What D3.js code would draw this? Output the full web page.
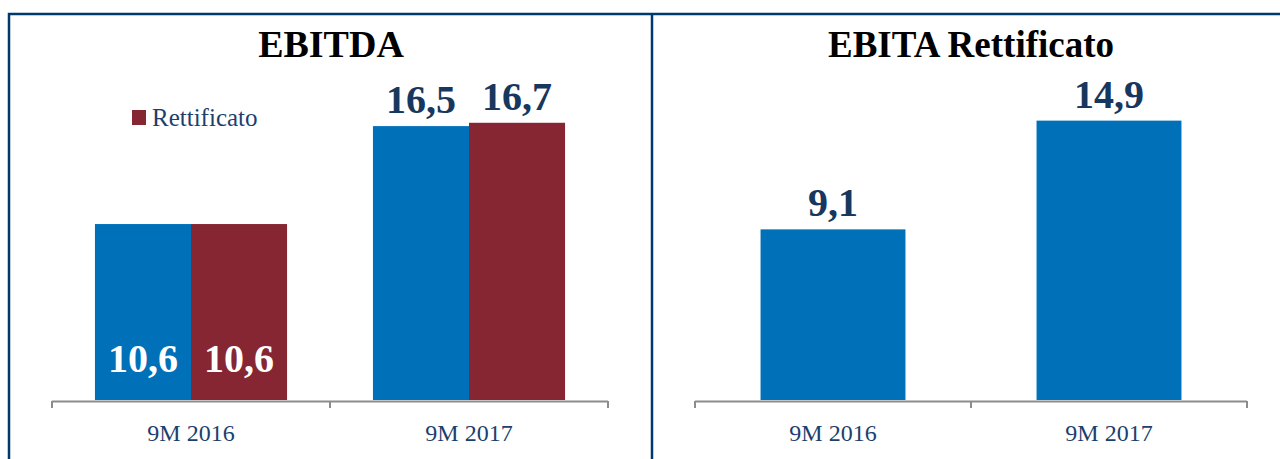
<!DOCTYPE html>
<html><head><meta charset="utf-8">
<script src="https://cdn.jsdelivr.net/npm/d3@7"></script>
<style>body{margin:0;background:#fff}svg{display:block}</style>
</head><body>
<svg id="c" width="1280" height="459"></svg>
<script>
const categories = ["9M 2016", "9M 2017"];
const ebitdaReported = [10.6, 16.5];
const ebitdaAdjusted = [10.6, 16.7];
const ebitaAdjusted = [9.1, 14.9];
const valueLabelsReported = ["10,6", "16,5"];
const valueLabelsAdjusted = ["10,6", "16,7"];
const valueLabelsEbita = ["9,1", "14,9"];
const titles = ["EBITDA", "EBITA Rettificato"];
const legendLabel = "Rettificato";

const BLUE = "#0070b8", MAROON = "#862633", NAVY = "#1c3f6e", LABEL = "#17375e";
const svg = d3.select("#c");
const font = "'Liberation Serif','Times New Roman',serif";

// frame
svg.append("path").attr("d", "M9,459 V14 H1282").attr("fill", "none").attr("stroke", "#003a6c").attr("stroke-width", 2.5);
svg.append("line").attr("x1", 652).attr("x2", 652).attr("y1", 14).attr("y2", 459).attr("stroke", "#003a6c").attr("stroke-width", 2.5);

const base = 400;

function axis(x0) {
  const [a, b] = x0.range();
  const g = svg.append("g");
  const ticks = [a, ...categories.map(c => x0(c) - x0.step() * x0.paddingInner() / 2 + x0.step())];
  g.append("line").attr("x1", a).attr("x2", b).attr("y1", base + 1.5).attr("y2", base + 1.5).attr("stroke", "#8c8c8c").attr("stroke-width", 2);
  ticks.forEach(t => g.append("line").attr("x1", t).attr("x2", t).attr("y1", base + 1).attr("y2", base + 8).attr("stroke", "#8c8c8c").attr("stroke-width", 2));
  g.selectAll("text.cat").data(categories).join("text")
    .attr("x", c => x0(c) + x0.bandwidth() / 2).attr("y", 441)
    .attr("text-anchor", "middle").attr("font-family", font).attr("font-size", 24).attr("fill", NAVY).text(c => c);
}

// Left panel: EBITDA
{
  const x0 = d3.scaleBand().domain(categories).range([52, 608]).paddingInner(0.309).paddingOuter(0.1545);
  const x1 = d3.scaleBand().domain(["rep", "adj"]).range([0, x0.bandwidth()]);
  const y = d3.scaleLinear().domain([0, 20]).range([base, base - 16.6 * 20]);
  const rows = categories.map((c, i) => ({c, rep: ebitdaReported[i], adj: ebitdaAdjusted[i], lr: valueLabelsReported[i], la: valueLabelsAdjusted[i]}));
  const g = svg.append("g");
  rows.forEach((r, i) => {
    [["rep", BLUE, r.rep, r.lr], ["adj", MAROON, r.adj, r.la]].forEach(([k, col, v, lab]) => {
      const bx = x0(r.c) + x1(k);
      g.append("rect").attr("x", bx).attr("y", y(v)).attr("width", x1.bandwidth()).attr("height", base - y(v)).attr("fill", col);
      const inside = i === 0;
      g.append("text").attr("x", bx + x1.bandwidth() / 2).attr("y", inside ? 372 : y(v) - 13)
        .attr("text-anchor", "middle").attr("font-family", font).attr("font-weight", "bold").attr("font-size", 40)
        .attr("fill", inside ? "#ffffff" : LABEL).text(lab);
    });
  });
  axis(x0);
  svg.append("text").attr("x", 331).attr("y", 57).attr("text-anchor", "middle").attr("font-family", font)
    .attr("font-weight", "bold").attr("font-size", 38).attr("fill", "#000").text(titles[0]);
  svg.append("rect").attr("x", 132).attr("y", 110).attr("width", 14).attr("height", 15).attr("fill", MAROON);
  svg.append("text").attr("x", 152).attr("y", 126).attr("font-family", font).attr("font-size", 25).attr("fill", NAVY).text(legendLabel);
}

// Right panel: EBITA Rettificato
{
  const x0 = d3.scaleBand().domain(categories).range([695, 1247]).paddingInner(0.475).paddingOuter(0.2375);
  const y = d3.scaleLinear().domain([0, 16]).range([base, base - 18.75 * 16]);
  const g = svg.append("g");
  categories.forEach((c, i) => {
    const v = ebitaAdjusted[i];
    g.append("rect").attr("x", x0(c)).attr("y", y(v)).attr("width", x0.bandwidth()).attr("height", base - y(v)).attr("fill", BLUE);
    g.append("text").attr("x", x0(c) + x0.bandwidth() / 2).attr("y", y(v) - 13)
      .attr("text-anchor", "middle").attr("font-family", font).attr("font-weight", "bold").attr("font-size", 40)
      .attr("fill", LABEL).text(valueLabelsEbita[i]);
  });
  axis(x0);
  svg.append("text").attr("x", 971).attr("y", 57).attr("text-anchor", "middle").attr("font-family", font)
    .attr("font-weight", "bold").attr("font-size", 37).attr("fill", "#000").text(titles[1]);
}
</script>
</body></html>
